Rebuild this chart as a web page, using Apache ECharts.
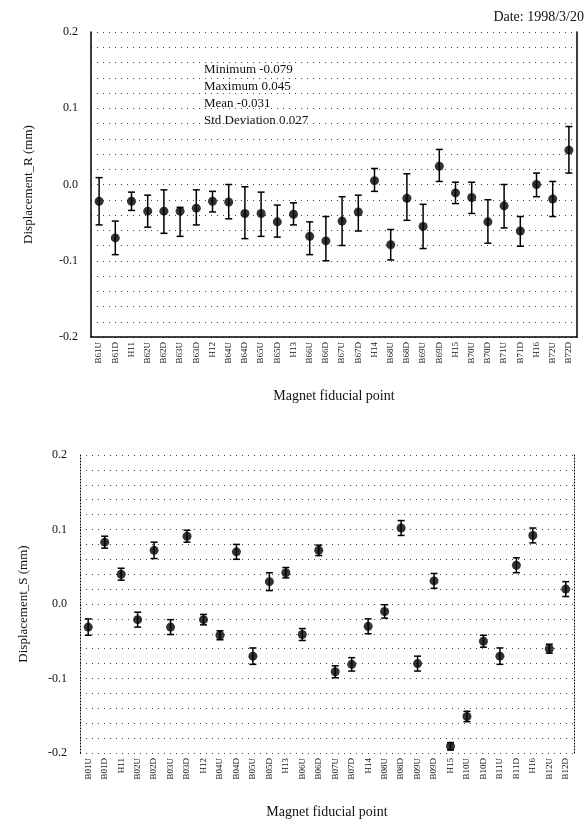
<!DOCTYPE html>
<html>
<head>
<meta charset="utf-8">
<script src="https://cdn.jsdelivr.net/npm/echarts@6/dist/echarts.min.js"></script>
<style>
html,body{margin:0;padding:0;background:#fff;}
#chart{width:586px;height:820px;}
</style>
</head>
<body>
<div id="chart"></div>
<script>
// ---------- data ----------
const topCategories = ['B61U','B61D','H11','B62U','B62D','B63U','B63D','H12','B64U','B64D','B65U','B65D','H13','B66U','B66D','B67U','B67D','H14','B68U','B68D','B69U','B69D','H15','B70U','B70D','B71U','B71D','H16','B72U','B72D'];
const topValue = [-0.022,-0.070,-0.022,-0.035,-0.035,-0.035,-0.031,-0.022,-0.023,-0.038,-0.038,-0.049,-0.039,-0.068,-0.074,-0.048,-0.036,0.005,-0.079,-0.018,-0.055,0.024,-0.011,-0.017,-0.049,-0.028,-0.061,0.000,-0.019,0.045];
const topUpper = [0.009,-0.048,-0.010,-0.014,-0.007,-0.030,-0.007,-0.009,0.000,-0.003,-0.010,-0.027,-0.024,-0.049,-0.042,-0.016,-0.014,0.021,-0.059,0.014,-0.026,0.046,0.003,0.003,-0.020,0.000,-0.042,0.015,0.004,0.076];
const topLower = [-0.053,-0.092,-0.034,-0.056,-0.064,-0.068,-0.053,-0.036,-0.045,-0.071,-0.068,-0.069,-0.053,-0.092,-0.100,-0.080,-0.061,-0.009,-0.099,-0.047,-0.084,0.004,-0.025,-0.038,-0.077,-0.057,-0.081,-0.016,-0.042,0.015];
const topStats = ['Minimum -0.079','Maximum 0.045','Mean -0.031','Std Deviation 0.027'];

const bottomCategories = ['B01U','B01D','H11','B02U','B02D','B03U','B03D','H12','B04U','B04D','B05U','B05D','H13','B06U','B06D','B07U','B07D','H14','B08U','B08D','B09U','B09D','H15','B10U','B10D','B11U','B11D','H16','B12U','B12D'];
const bottomValue = [-0.031,0.083,0.040,-0.021,0.072,-0.031,0.091,-0.021,-0.042,0.070,-0.070,0.030,0.042,-0.041,0.072,-0.091,-0.081,-0.030,-0.010,0.102,-0.080,0.031,-0.191,-0.151,-0.050,-0.070,0.052,0.092,-0.060,0.020];
const bottomErr = [0.011,0.008,0.008,0.010,0.011,0.010,0.008,0.007,0.006,0.010,0.011,0.012,0.007,0.008,0.007,0.008,0.009,0.010,0.009,0.010,0.010,0.010,0.005,0.007,0.008,0.011,0.010,0.010,0.006,0.010];

const yTickLabels = ['-0.2','-0.1','0.0','0.1','0.2'];
const dateText = 'Date: 1998/3/20';

// ---------- chart ----------
const SERIF = 'Liberation Serif';
const chart = echarts.init(document.getElementById('chart'));

function errRender(params, api) {
  const c = api.coord([api.value(0), api.value(1)]);
  const lo = api.coord([api.value(0), api.value(2)]);
  const hi = api.coord([api.value(0), api.value(3)]);
  const w = 3.5;
  const st = {stroke:'#000', lineWidth:1.5};
  return {type:'group', children:[
    {type:'line', shape:{x1:c[0], y1:hi[1], x2:c[0], y2:lo[1]}, style:st},
    {type:'line', shape:{x1:c[0]-w, y1:hi[1], x2:c[0]+w, y2:hi[1]}, style:st},
    {type:'line', shape:{x1:c[0]-w, y1:lo[1], x2:c[0]+w, y2:lo[1]}, style:st}
  ]};
}

function yLabel(v) {
  const r = Math.round(v * 100);
  if (r % 10 !== 0) return '';
  const s = (r / 100).toFixed(1);
  return yTickLabels.indexOf(s) >= 0 ? s : '';
}

function makeX(gridIndex, cats, solid) {
  return {
    type:'category', gridIndex, data:cats, boundaryGap:true,
    axisLine:{show:solid, onZero:false, lineStyle:{color:'#000', width:1.5}}, axisTick:{show:false},
    axisLabel:{interval:0, rotate:90, fontSize:9, fontFamily:SERIF, color:'#111', margin:5},
    name:'Magnet fiducial point', nameLocation:'middle', nameGap:52,
    nameTextStyle:{fontFamily:SERIF, fontSize:14, color:'#111'}
  };
}
function makeY(gridIndex, name, solid, gap) {
  return {
    type:'value', gridIndex, min:-0.2, max:0.2, interval:0.02,
    axisLine:{show:true, lineStyle:{color:'#000', width:solid?1.5:1, type:solid?'solid':[1,2]}},
    axisTick:{show:false},
    axisLabel:{formatter:yLabel, fontSize:12, fontFamily:SERIF, color:'#111', margin:13, showMinLabel:true, showMaxLabel:true},
    splitLine:{show:true, lineStyle:{color:'#444', width:1, type:[1,5]}},
    name, nameLocation:'middle', nameGap:gap,
    nameTextStyle:{fontFamily:SERIF, fontSize:13, color:'#111'}
  };
}
function makeYRight(gridIndex, solid) {
  return {
    type:'value', gridIndex, position:'right', min:-0.2, max:0.2,
    axisLine:{show:true, lineStyle:{color:'#000', width:solid?1.5:1, type:solid?'solid':[1,2]}},
    axisTick:{show:false}, axisLabel:{show:false}, splitLine:{show:false}
  };
}

const statGraphics = topStats.map((t,i)=>({
  type:'text', x:204, y:63 + i*17, style:{text:t, font:'13px "Liberation Serif"', fill:'#111'}
}));

const option = {
  backgroundColor:'#fff',
  animation:false,
  grid:[
    {left:91, right:9, top:32, height:305},
    {left:80, right:12, top:455, height:298}
  ],
  xAxis:[makeX(0, topCategories, true), makeX(1, bottomCategories, false)],
  yAxis:[
    makeY(0, 'Displacement_R (mm)', true, 56),
    makeY(1, 'Displacement_S (mm)', false, 50),
    makeYRight(0, true),
    makeYRight(1, false)
  ],
  graphic:[
    {type:'text', right:2, top:10, style:{text:dateText, font:'14px "Liberation Serif"', fill:'#111'}}
  ].concat(statGraphics),
  series:[
    {type:'custom', xAxisIndex:0, yAxisIndex:0, renderItem:errRender,
     data: topValue.map((v,i)=>[i, v, topLower[i], topUpper[i]]), z:2},
    {type:'scatter', xAxisIndex:0, yAxisIndex:0, symbol:'circle', symbolSize:9,
     itemStyle:{color:'#000'}, data: topValue.map((v,i)=>[i, v]), z:3},
    {type:'custom', xAxisIndex:1, yAxisIndex:1, renderItem:errRender,
     data: bottomValue.map((v,i)=>[i, v, v-bottomErr[i], v+bottomErr[i]]), z:2},
    {type:'scatter', xAxisIndex:1, yAxisIndex:1, symbol:'circle', symbolSize:9,
     itemStyle:{color:'#000'}, data: bottomValue.map((v,i)=>[i, v]), z:3}
  ]
};
chart.setOption(option);
</script>
</body>
</html>
